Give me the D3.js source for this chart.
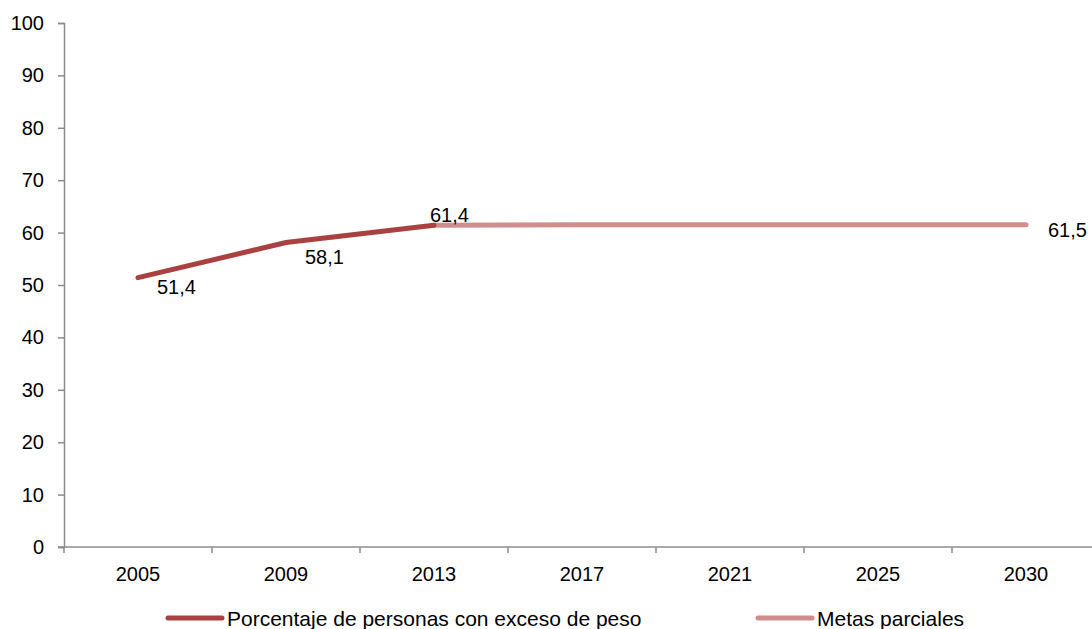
<!DOCTYPE html>
<html>
<head>
<meta charset="utf-8">
<script src="https://cdn.jsdelivr.net/npm/d3@7"></script>
<style>
  body { margin: 0; background: #fff; }
  svg { display: block; font-family: 'Liberation Sans', Arial, sans-serif; }
</style>
</head>
<body>
<svg></svg>
<script>
'use strict'

const years = ['2005', '2009', '2013', '2017', '2021', '2025', '2030']
const yTicks = [0, 10, 20, 30, 40, 50, 60, 70, 80, 90, 100]

const actualYears = ['2005', '2009', '2013']
const actualValues = [51.4, 58.1, 61.4]

const goalYears = ['2013', '2017', '2021', '2025', '2030']
const goalValues = [61.4, 61.5, 61.5, 61.5, 61.5]

const seriesNames = ['Porcentaje de personas con exceso de peso', 'Metas parciales']
const colors = ['#A8413F', '#D18C8C']

const width = 1092, height = 629
const margin = { top: 23, left: 64, bottom: 82 }

const svg = d3.select('svg').attr('width', width).attr('height', height)

const x = d3.scaleBand().domain(years).range([margin.left, margin.left + 148 * years.length])
const y = d3.scaleLinear().domain([0, 100]).range([height - margin.bottom, margin.top])

const axisColor = '#8c8c8c'
const fontSize = '20px'

// y axis
const yAxis = svg.append('g')
  .attr('transform', 'translate(' + margin.left + ',0)')
  .call(d3.axisLeft(y).tickValues(yTicks).tickSize(6).tickPadding(14))
yAxis.select('.domain').attr('stroke', axisColor).attr('stroke-width', 1.5)
yAxis.selectAll('.tick line').attr('stroke', axisColor).attr('stroke-width', 1.5)
yAxis.selectAll('.tick text').attr('fill', '#000').style('font-size', fontSize)

// x axis, ticks at band edges
const xAxis = svg.append('g')
  .attr('transform', 'translate(0,' + y(0) + ')')
xAxis.append('line')
  .attr('x1', margin.left - 6).attr('x2', width)
  .attr('stroke', axisColor).attr('stroke-width', 1.5)
xAxis.selectAll('.edge')
  .data(years)
  .enter().append('line')
  .attr('x1', d => x(d)).attr('x2', d => x(d))
  .attr('y1', 0).attr('y2', 6)
  .attr('stroke', axisColor).attr('stroke-width', 1.5)
xAxis.selectAll('.lbl')
  .data(years)
  .enter().append('text')
  .attr('x', d => x(d) + x.bandwidth() / 2)
  .attr('y', 34)
  .attr('text-anchor', 'middle')
  .style('font-size', fontSize)
  .text(d => d)

const cx = d => x(d) + x.bandwidth() / 2

const line = d3.line().x(d => cx(d.year)).y(d => y(d.value))

const goal = goalYears.map((d, i) => ({ year: d, value: goalValues[i] }))
const actual = actualYears.map((d, i) => ({ year: d, value: actualValues[i] }))

svg.append('path')
  .datum(goal)
  .attr('d', line)
  .attr('fill', 'none')
  .attr('stroke', colors[1])
  .attr('stroke-width', 5)
  .attr('stroke-linecap', 'round')

svg.append('path')
  .datum(actual)
  .attr('d', line)
  .attr('fill', 'none')
  .attr('stroke', colors[0])
  .attr('stroke-width', 5)
  .attr('stroke-linecap', 'round')

const fmt = v => d3.format('.1f')(v).replace('.', ',')

// data labels
const labelOffsets = [[19, 16], [19, 21], [-4, -3]]
svg.selectAll('.dl')
  .data(actual)
  .enter().append('text')
  .attr('x', (d, i) => cx(d.year) + labelOffsets[i][0])
  .attr('y', (d, i) => y(d.value) + labelOffsets[i][1])
  .style('font-size', fontSize)
  .text(d => fmt(d.value))

const lastGoal = goal[goal.length - 1]
svg.append('text')
  .attr('x', cx(lastGoal.year) + 22)
  .attr('y', y(lastGoal.value) + 12)
  .style('font-size', fontSize)
  .text(fmt(lastGoal.value))

// legend
const legendX = [168, 758]
const legend = svg.selectAll('.legend')
  .data(seriesNames)
  .enter().append('g')
  .attr('transform', (d, i) => 'translate(' + legendX[i] + ',618)')
legend.append('line')
  .attr('x1', 0).attr('x2', 54)
  .attr('stroke', (d, i) => colors[i])
  .attr('stroke-width', 5)
  .attr('stroke-linecap', 'round')
legend.append('text')
  .attr('x', 59).attr('y', 8)
  .style('font-size', '21px')
  .text(d => d)
</script>
</body>
</html>
